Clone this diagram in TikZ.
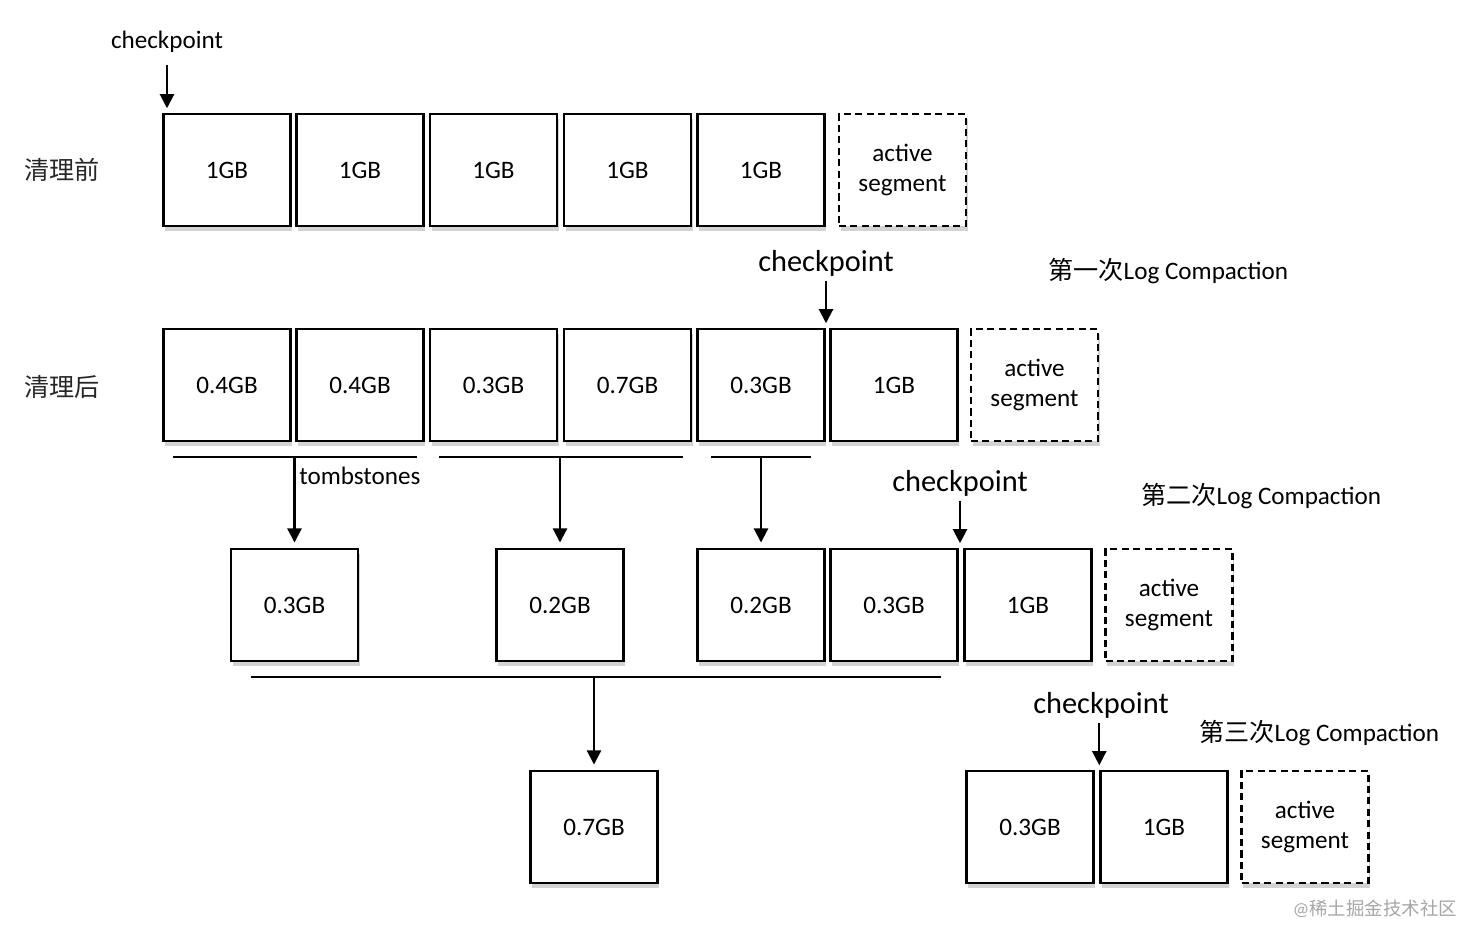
\documentclass[tikz,border=0pt]{standalone}
\usepackage{fontspec}
\setmainfont{Carlito}
\newfontfamily\cjk{Noto Sans CJK SC}
\usepackage{tikz}
\usetikzlibrary{arrows.meta,shadows}

\begin{document}
\begin{tikzpicture}[x=0.02cm, y=-0.02cm,
    seg/.style={draw, line width=1.4pt, fill=white, minimum width=2.54cm, minimum height=2.24cm, inner sep=0pt,
        font=\fontsize{14.3}{17.3}\selectfont, drop shadow={shadow xshift=1pt, shadow yshift=-3pt, opacity=0.35}},
    actseg/.style={seg, dash pattern=on 4pt off 2.5pt, align=center},
    lbl/.style={inner sep=0pt, font=\fontsize{14.3}{17.3}\selectfont},
    biglbl/.style={inner sep=0pt, font=\fontsize{17.3}{20}\selectfont},
    arr/.style={-{Triangle[length=8pt,width=8pt]}, line width=1.2pt},
    bar/.style={line width=1.1pt}]
    \useasboundingbox (0,0) rectangle (1480,944);
    % Before cleaning
    \node[lbl, text=black!85] (before) at (62,170) {\cjk 清理前};
    \node[seg] (a1) at (227,170) {1GB};
    \node[seg] (a2) at (360,170) {1GB};
    \node[seg] (a3) at (493.5,170) {1GB};
    \node[seg] (a4) at (627.5,170) {1GB};
    \node[seg] (a5) at (761,170) {1GB};
    \node[actseg] (a6) at (902.5,170) {active\\segment};
    \node[lbl] (cp1) at (167,42) {checkpoint};
    \draw[arr, shorten <=7pt, shorten >=2.6pt] (cp1.south) -- (cp1.south |- a1.north);
    % After cleaning
    \node[lbl, text=black!85] (after) at (62,387) {\cjk 清理后};
    \node[seg] (b1) at (227,385) {0.4GB};
    \node[seg] (b2) at (360,385) {0.4GB};
    \node[seg] (b3) at (493.5,385) {0.3GB};
    \node[seg] (b4) at (627.5,385) {0.7GB};
    \node[seg] (b5) at (761,385) {0.3GB};
    \node[seg] (b6) at (894,385) {1GB};
    \node[actseg] (b7) at (1034.5,385) {active\\segment};
    \node[biglbl] (cp2) at (826,263) {checkpoint};
    \draw[arr, shorten <=2.6pt, shorten >=2.6pt] (cp2.south) -- (cp2.south |- b6.north);
    \node[lbl, anchor=west] (run1) at (1048,271) {{\cjk 第一次}Log Compaction};
    % First compaction
    \node[seg] (c1) at (294.5,605) {0.3GB};
    \node[seg] (c2) at (560,605) {0.2GB};
    \node[seg] (c3) at (761,605) {0.2GB};
    \node[seg] (c4) at (894,605) {0.3GB};
    \node[seg] (c5) at (1028,605) {1GB};
    \node[actseg] (c6) at (1169,605) {active\\segment};
    \coordinate (m1l) at (173,457);
    \coordinate (m1r) at (417,457);
    \coordinate (m2l) at (439,457);
    \coordinate (m2r) at (683,457);
    \coordinate (m3l) at (711,457);
    \coordinate (m3r) at (811,457);
    \draw[bar] (m1l) -- (m1r);
    \draw[bar] (m2l) -- (m2r);
    \draw[bar] (m3l) -- (m3r);
    \draw[arr, shorten >=3pt] (m1l -| c1.north) -- (c1.north);
    \draw[arr, shorten >=3pt] (m2l -| c2.north) -- (c2.north);
    \draw[arr, shorten >=3pt] (m3l -| c3.north) -- (c3.north);
    \node[lbl, anchor=west] (tomb) at (299,476) {tombstones};
    \node[biglbl] (cp3) at (960,483) {checkpoint};
    \draw[arr, shorten <=2.6pt, shorten >=2.6pt] (cp3.south) -- (cp3.south |- c5.north);
    \node[lbl, anchor=west] (run2) at (1141,496) {{\cjk 第二次}Log Compaction};
    % Second compaction
    \node[seg] (d1) at (594,827) {0.7GB};
    \node[seg] (d2) at (1030,827) {0.3GB};
    \node[seg] (d3) at (1164,827) {1GB};
    \node[actseg] (d4) at (1305,827) {active\\segment};
    \coordinate (m4l) at (251,677);
    \coordinate (m4r) at (941,677);
    \draw[bar] (m4l) -- (m4r);
    \draw[arr, shorten >=3pt] (m4l -| d1.north) -- (d1.north);
    \node[biglbl] (cp4) at (1101,705) {checkpoint};
    \draw[arr, shorten <=2.6pt, shorten >=2.6pt] (cp4.south -| d3.north west) -- (d3.north west);
    \node[lbl, anchor=west] (run3) at (1199,733) {{\cjk 第三次}Log Compaction};
    % Watermark
    \node[text=black!35, font=\fontsize{10.5}{12}\selectfont] (mark) at (1375,909) {@{\cjk 稀土掘金技术社区}};
\end{tikzpicture}
\end{document}
